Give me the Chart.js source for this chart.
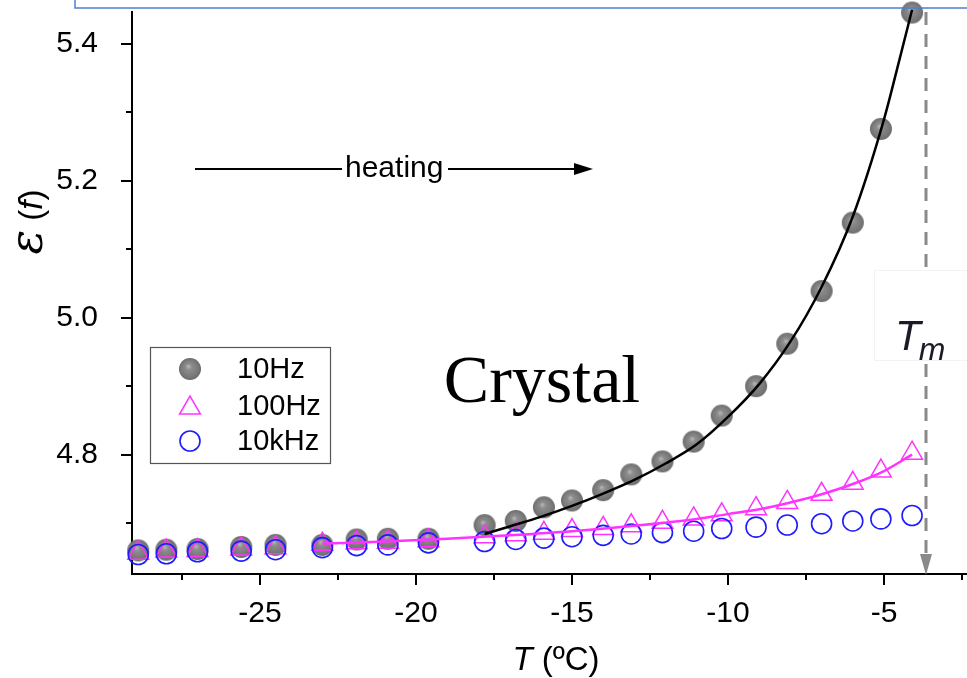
<!DOCTYPE html>
<html>
<head>
<meta charset="utf-8">
<script src="https://cdn.jsdelivr.net/npm/chart.js@4.4.1/dist/chart.umd.min.js"></script>
<style>
  html, body { margin: 0; padding: 0; background: #ffffff; }
  #wrap { position: relative; width: 967px; height: 678px; }
  canvas { display: block; }
</style>
</head>
<body>
<div id="wrap"><canvas id="c" width="967" height="678"></canvas></div>
<script>
// ---------------- data ----------------
const tempC = [-28.9, -28.0, -27.0, -25.6, -24.5, -23.0, -21.9, -20.9, -19.6, -17.8, -16.8, -15.9,
               -15.0, -14.0, -13.1, -12.1, -11.1, -10.2, -9.1, -8.1, -7.0, -6.0, -5.1, -4.1];
const eps10Hz  = [4.660, 4.661, 4.662, 4.665, 4.668, 4.668, 4.676, 4.677, 4.677, 4.697, 4.703, 4.723,
                  4.733, 4.748, 4.771, 4.790, 4.819, 4.857, 4.900, 4.962, 5.039, 5.139, 5.276, 5.446];
const eps100Hz = [4.656, 4.659, 4.660, 4.662, 4.664, 4.669, 4.671, 4.672, 4.674, 4.680, 4.683, 4.685,
                  4.689, 4.692, 4.696, 4.701, 4.706, 4.712, 4.721, 4.730, 4.742, 4.758, 4.776, 4.802];
const eps10kHz = [4.654, 4.655, 4.658, 4.659, 4.661, 4.664, 4.667, 4.668, 4.671, 4.673, 4.676, 4.678,
                  4.680, 4.682, 4.684, 4.686, 4.688, 4.692, 4.694, 4.697, 4.699, 4.703, 4.706, 4.711];
// fitted curves
const fitT10Hz  = [-17.8, -17, -16, -15, -14, -13, -12, -11, -10, -9, -8, -7, -6, -5, -4.5, -4.1];
const fit10Hz   = [4.684, 4.695, 4.709, 4.725, 4.743, 4.763, 4.787, 4.815, 4.855, 4.903, 4.965, 5.045, 5.148, 5.290, 5.378, 5.450];
const fitT100Hz = [-23.0, -21, -19, -17, -15, -13, -11, -10, -9, -8, -7, -6, -5, -4.1];
const fit100Hz  = [4.670, 4.673, 4.677, 4.682, 4.688, 4.696, 4.706, 4.713, 4.720, 4.730, 4.742, 4.757, 4.776, 4.800];

const seriesNames = ['10Hz', '100Hz', '10kHz'];
const xMajorTicks = [-25, -20, -15, -10, -5];
const xMinorTicks = [-27.5, -22.5, -17.5, -12.5, -7.5, -2.5];
const yMajorTicks = [4.8, 5.0, 5.2, 5.4];
const yMinorTicks = [4.7, 4.9, 5.1, 5.3];
const xRange = [-29.1, -2.34];
const yRange = [4.6255, 5.4468];
const meltT = -3.65;   // T_m marker

const xTitle = ['T', ' (ºC)'];
const yTitle = ['ε', ' (', 'f', ')'];

// ---------------- styles ----------------
const FONT = "'Liberation Sans', Arial, sans-serif";
const grayColor = '#7b7b7b';
const magenta = '#ff33ff';
const blue = '#1c1cff';

// sphere marker image
function makeSphere(r) {
  const c = document.createElement('canvas');
  c.width = c.height = 2 * r + 2;
  const g = c.getContext('2d');
  const cx = r + 1, cy = r + 1;
  const grad = g.createRadialGradient(cx - r * 0.15, cy - r * 0.25, 0.5, cx, cy, r);
  grad.addColorStop(0, '#b4b4b4');
  grad.addColorStop(0.25, '#8c8c8c');
  grad.addColorStop(0.8, '#777777');
  grad.addColorStop(1, '#6a6a6a');
  g.fillStyle = grad;
  g.beginPath(); g.arc(cx, cy, r, 0, Math.PI * 2); g.fill();
  return c;
}
const sphere = makeSphere(11);

const pts = (xs, ys) => xs.map((x, i) => ({ x: x, y: ys[i] }));

// ---------------- plugin for decorations ----------------
const deco = {
  id: 'deco',
  afterDraw(chart) {
    const ctx = chart.ctx;
    const xs = chart.scales.x, ys = chart.scales.y;
    const area = chart.chartArea;
    ctx.save();

    // tick marks
    ctx.strokeStyle = '#000'; ctx.lineWidth = 2;
    const xAxisY = area.bottom + 1;
    const drawXT = (v, len) => {
      const px = Math.round(xs.getPixelForValue(v));
      ctx.beginPath(); ctx.moveTo(px, xAxisY); ctx.lineTo(px, xAxisY + len); ctx.stroke();
    };
    xMajorTicks.forEach(v => drawXT(v, 10));
    xMinorTicks.forEach(v => drawXT(v, 5));
    const yAxisX = area.left - 1;
    const drawYT = (v, len) => {
      const py = Math.round(ys.getPixelForValue(v));
      ctx.beginPath(); ctx.moveTo(yAxisX, py); ctx.lineTo(yAxisX - len, py); ctx.stroke();
    };
    yMajorTicks.forEach(v => drawYT(v, 10));
    yMinorTicks.forEach(v => drawYT(v, 5));

    // x title
    ctx.fillStyle = '#000';
    ctx.textBaseline = 'alphabetic';
    ctx.font = 'italic 33px ' + FONT;
    const w1 = ctx.measureText(xTitle[0]).width;
    ctx.font = '33px ' + FONT;
    const w2 = ctx.measureText(xTitle[1]).width;
    let sx = 556 - (w1 + w2) / 2;
    ctx.font = 'italic 33px ' + FONT; ctx.fillText(xTitle[0], sx, 670);
    ctx.font = '33px ' + FONT; ctx.fillText(xTitle[1], sx + w1, 670);

    // y title (rotated)
    ctx.save();
    ctx.translate(42, 222);
    ctx.rotate(-Math.PI / 2);
    const parts = [
      { t: yTitle[0], f: "italic 46px 'DejaVu Serif', serif" },
      { t: yTitle[1], f: '33px ' + FONT },
      { t: yTitle[2], f: 'italic 33px ' + FONT },
      { t: yTitle[3], f: '33px ' + FONT }
    ];
    let tw = 0;
    parts.forEach(p => { ctx.font = p.f; p.w = ctx.measureText(p.t).width; tw += p.w; });
    let cx = -tw / 2;
    parts.forEach(p => { ctx.font = p.f; ctx.fillText(p.t, cx, 0); cx += p.w; });
    ctx.restore();

    // heating arrow
    ctx.strokeStyle = '#000'; ctx.fillStyle = '#000'; ctx.lineWidth = 2;
    ctx.beginPath(); ctx.moveTo(195, 169); ctx.lineTo(342, 169); ctx.stroke();
    ctx.beginPath(); ctx.moveTo(448, 169); ctx.lineTo(576, 169); ctx.stroke();
    ctx.beginPath(); ctx.moveTo(593, 169); ctx.lineTo(574, 163); ctx.lineTo(574, 175); ctx.closePath(); ctx.fill();
    ctx.font = '30px ' + FONT; ctx.textBaseline = 'middle';
    ctx.fillText('heating', 345, 169);

    // Crystal label
    ctx.textBaseline = 'alphabetic';
    ctx.font = "68px 'Liberation Serif', 'Times New Roman', serif";
    ctx.textAlign = 'center';
    ctx.fillText('Crystal', 542, 402);
    ctx.textAlign = 'left';

    // T_m dashed marker
    const mx = Math.round(xs.getPixelForValue(meltT));
    ctx.strokeStyle = '#8a8a8a'; ctx.lineWidth = 3;
    ctx.setLineDash([13, 9]);
    ctx.beginPath(); ctx.moveTo(mx, area.top); ctx.lineTo(mx, area.bottom - 18); ctx.stroke();
    ctx.setLineDash([]);
    ctx.fillStyle = '#8a8a8a';
    ctx.beginPath(); ctx.moveTo(mx, area.bottom + 1); ctx.lineTo(mx - 6, area.bottom - 20); ctx.lineTo(mx + 6, area.bottom - 20); ctx.closePath(); ctx.fill();
    // label box
    ctx.fillStyle = '#ffffff';
    ctx.fillRect(874, 270, 93, 90);
    ctx.strokeStyle = '#f3f3f3'; ctx.lineWidth = 1;
    ctx.strokeRect(874.5, 270.5, 93, 90);
    ctx.fillStyle = '#1b1b28';
    ctx.font = 'italic 42px ' + FONT;
    ctx.fillText('T', 895, 350);
    const tW = ctx.measureText('T').width;
    ctx.font = 'italic 32px ' + FONT;
    ctx.fillText('m', 895 + tW - 2, 360);

    // legend
    ctx.strokeStyle = '#555'; ctx.lineWidth = 1.2;
    ctx.strokeRect(150.5, 347.5, 180, 116);
    const rows = [369, 406, 441];
    ctx.drawImage(sphere, 190 - sphere.width / 2, rows[0] - sphere.height / 2);
    ctx.strokeStyle = magenta; ctx.lineWidth = 1.5;
    const r = 12;
    ctx.beginPath();
    for (let k = 0; k < 3; k++) {
      const a = k * 2 * Math.PI / 3;
      const px = 190 + Math.sin(a) * r, py = rows[1] + 2 - Math.cos(a) * r;
      if (k === 0) ctx.moveTo(px, py); else ctx.lineTo(px, py);
    }
    ctx.closePath(); ctx.stroke();
    ctx.strokeStyle = blue; ctx.lineWidth = 1.6;
    ctx.beginPath(); ctx.arc(190, rows[2], 10, 0, Math.PI * 2); ctx.stroke();
    ctx.fillStyle = '#000';
    ctx.font = '29px ' + FONT; ctx.textBaseline = 'middle';
    seriesNames.forEach((n, i) => ctx.fillText(n, 237, rows[i] + 1));

    // blue frame edge at top
    ctx.strokeStyle = '#4f7fd0'; ctx.lineWidth = 1.5;
    ctx.beginPath(); ctx.moveTo(75, 0); ctx.lineTo(75, 8); ctx.lineTo(967, 8); ctx.stroke();

    ctx.restore();
  }
};

// ---------------- chart ----------------
new Chart(document.getElementById('c'), {
  type: 'scatter',
  data: {
    datasets: [
      { label: 'fit10Hz', data: pts(fitT10Hz, fit10Hz), showLine: true, borderColor: '#000', borderWidth: 2.5,
        pointRadius: 0, cubicInterpolationMode: 'monotone', fill: false, clip: 12 },
      { label: 'fit100Hz', data: pts(fitT100Hz, fit100Hz), showLine: true, borderColor: magenta, borderWidth: 2.5,
        pointRadius: 0, cubicInterpolationMode: 'monotone', fill: false },
      { label: seriesNames[2], data: pts(tempC, eps10kHz), pointStyle: 'circle', pointRadius: 10,
        borderColor: blue, pointBorderWidth: 1.6, backgroundColor: 'rgba(0,0,0,0)', clip: 12 },
      { label: seriesNames[1], data: pts(tempC, eps100Hz), pointStyle: 'triangle', pointRadius: 12,
        borderColor: magenta, pointBorderWidth: 1.5, backgroundColor: 'rgba(0,0,0,0)', clip: 12 },
      { label: seriesNames[0], data: pts(tempC, eps10Hz), pointStyle: sphere, pointRadius: 11,
        borderColor: grayColor, backgroundColor: grayColor, clip: 14 }
    ]
  },
  options: {
    responsive: false,
    devicePixelRatio: 1,
    animation: false,
    events: [],
    layout: { autoPadding: false, padding: { left: 0, right: 0, top: 12, bottom: 0 } },
    plugins: { legend: { display: false }, tooltip: { enabled: false } },
    scales: {
      x: {
        type: 'linear', min: xRange[0], max: xRange[1],
        grid: { display: false },
        border: { display: true, color: '#000', width: 2 },
        afterBuildTicks: s => { s.ticks = xMajorTicks.map(v => ({ value: v })); },
        afterFit: s => { s.height = 104; s.paddingLeft = 0; s.paddingRight = 0; s.paddingTop = 0; s.paddingBottom = 0; },
        ticks: { color: '#000', font: { family: FONT, size: 30 }, padding: 14, maxRotation: 0, autoSkip: false,
                 callback: v => String(v) }
      },
      y: {
        type: 'linear', min: yRange[0], max: yRange[1],
        grid: { display: false },
        border: { display: true, color: '#000', width: 2 },
        afterBuildTicks: s => { s.ticks = yMajorTicks.map(v => ({ value: v })); },
        afterFit: s => { s.width = 132; s.paddingLeft = 0; s.paddingRight = 0; s.paddingTop = 0; s.paddingBottom = 0; },
        ticks: { color: '#000', font: { family: FONT, size: 30 }, padding: 26, autoSkip: false,
                 callback: v => Number(v).toFixed(1) }
      }
    }
  },
  plugins: [deco]
});
</script>
</body>
</html>
